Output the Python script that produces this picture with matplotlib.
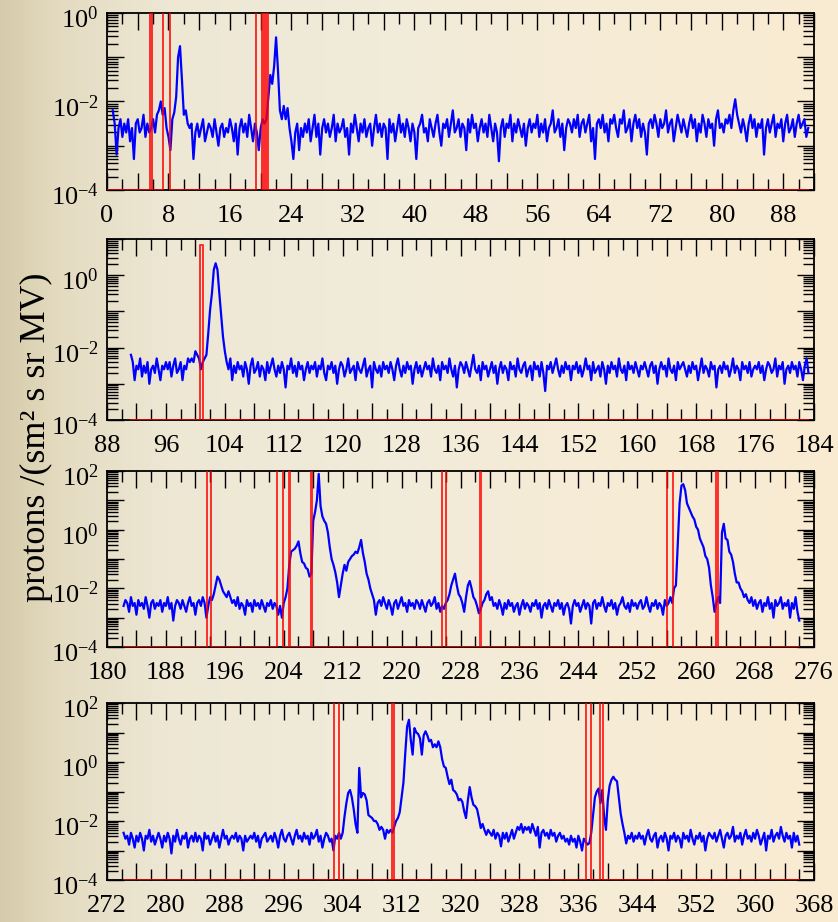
import numpy as np
import matplotlib
matplotlib.use('Agg')
import matplotlib.pyplot as plt
from matplotlib.ticker import MultipleLocator, LogLocator, FuncFormatter, NullFormatter
from matplotlib.transforms import ScaledTranslation

plt.rcParams['font.family'] = ['Liberation Serif', 'DejaVu Serif']
plt.rcParams['mathtext.fontset'] = 'custom'
plt.rcParams['mathtext.rm'] = 'Liberation Serif'
plt.rcParams['mathtext.it'] = 'Liberation Serif:italic'
plt.rcParams['mathtext.bf'] = 'Liberation Serif:bold'

# ---------------- data ----------------
y_label = "protons /(sm\u00b2 s sr MV)"
panel_xlims = [(0, 92), (88, 184), (180, 276), (272, 368)]
panel_ylims = [(1e-4, 1e0), (1e-4, 1e1), (1e-4, 1e2), (1e-4, 1e2)]
sample_step = 0.25  # days between samples

# log10 of flux, rows keyed by the day of their first sample
flux_p1 = {
    0.75: [-2.2, -2.5, -3.2, -2.6, -2.4, -2.8, -2.5, -2.7, -2.4, -2.9, -2.6, -3.3, -2.5, -2.4, -2.7, -2.6, -2.3, -2.8, -2.5, -2.7],
    5.75: [-2.6, -2.4, -2.7, -2.3, -2.2, -2.0, -2.3, -2.15, -2.6, -2.8, -3.1, -2.4, -2.25, -1.9, -1.0, -0.75, -1.5, -2.3, -2.2, -2.5],
    10.75: [-2.6, -2.5, -3.3, -2.7, -2.5, -2.8, -2.6, -2.4, -2.9, -2.7, -2.5, -2.6, -2.8, -2.4, -2.7, -3.0, -2.6, -2.5, -2.8, -2.6],
    15.75: [-2.7, -2.4, -2.6, -2.9, -2.5, -3.2, -2.6, -2.4, -2.7, -2.5, -2.8, -2.3, -2.6, -2.9, -2.5, -2.7, -3.1, -2.6, -2.4, -2.5],
    20.75: [-2.4, -1.9, -1.4, -1.6, -1.2, -0.55, -1.3, -2.2, -2.4, -2.1, -2.4, -2.15, -2.6, -2.9, -3.3, -2.7, -2.5, -3.1, -2.6, -2.8],
    25.75: [-2.5, -2.7, -2.4, -2.9, -2.6, -2.3, -2.8, -2.5, -3.2, -2.6, -2.4, -2.7, -2.5, -2.8, -2.6, -2.3, -2.9, -2.5, -2.7, -2.6],
    30.75: [-2.4, -2.8, -2.6, -3.2, -2.5, -2.7, -2.3, -2.6, -2.9, -2.5, -2.7, -2.4, -2.8, -2.6, -2.5, -3.0, -2.6, -2.3, -2.7, -2.5],
    35.75: [-2.8, -2.5, -2.6, -3.3, -2.4, -2.7, -2.5, -2.9, -2.6, -2.3, -2.7, -2.5, -2.8, -2.4, -2.6, -2.9, -2.5, -2.7, -3.3, -2.6],
    40.75: [-2.5, -2.3, -2.7, -2.6, -2.9, -2.4, -2.6, -2.8, -2.5, -2.3, -2.7, -3.0, -2.5, -2.6, -2.4, -2.8, -2.5, -2.2, -2.7, -2.6],
    45.75: [-2.4, -2.8, -2.5, -2.6, -3.1, -2.4, -2.7, -2.3, -2.6, -2.5, -2.9, -2.6, -2.4, -2.7, -2.5, -2.8, -2.3, -2.6, -2.9, -2.5],
    50.75: [-2.7, -3.35, -2.6, -2.4, -2.8, -2.5, -2.6, -2.3, -2.9, -2.5, -2.7, -2.4, -2.6, -2.8, -2.5, -3.0, -2.6, -2.4, -2.7, -2.5],
    55.75: [-2.6, -2.3, -2.8, -2.5, -2.7, -2.4, -2.9, -2.6, -2.5, -2.2, -2.7, -2.6, -2.4, -2.8, -2.5, -3.1, -2.6, -2.4, -2.5, -2.7],
    60.75: [-2.4, -2.6, -2.3, -2.8, -2.5, -2.4, -2.7, -2.5, -2.3, -2.9, -2.6, -3.3, -2.5, -2.4, -2.6, -2.3, -2.7, -2.5, -2.9, -2.4],
    65.75: [-2.5, -2.3, -2.6, -2.8, -2.4, -2.5, -2.2, -2.7, -2.6, -2.4, -2.9, -2.5, -2.3, -2.6, -2.4, -2.8, -2.5, -2.7, -3.2, -2.5],
    70.75: [-2.4, -2.6, -2.3, -2.5, -2.8, -2.4, -2.6, -2.5, -2.2, -2.7, -2.5, -2.4, -2.9, -2.6, -2.3, -2.5, -2.7, -2.4, -2.6, -2.8],
    75.75: [-2.5, -2.3, -2.6, -2.4, -2.9, -2.5, -2.7, -2.3, -2.5, -2.8, -2.4, -2.6, -2.5, -3.0, -2.4, -2.2, -2.6, -2.5, -2.7, -2.4],
    80.75: [-2.5, -2.3, -2.6, -2.2, -1.95, -2.3, -2.5, -2.7, -2.4, -2.6, -2.9, -2.5, -2.3, -2.6, -2.4, -2.8, -2.5, -2.6, -2.4, -3.2],
    85.75: [-2.6, -2.4, -2.7, -2.5, -2.3, -2.8, -2.5, -2.6, -2.4, -2.9, -2.5, -2.3, -2.7, -2.6, -2.4, -2.8, -2.5, -2.3, -2.6, -2.5],
    90.75: [-2.4, -2.8, -2.6],
}

flux_p2 = {
    91.25: [-2.2, -2.4, -2.9, -2.5, -2.6, -2.3, -2.8, -2.5, -2.7, -2.4, -3.0, -2.6, -2.5, -2.7, -2.3, -2.6, -2.9, -2.5, -2.6, -2.4],
    96.25: [-2.6, -2.4, -2.8, -2.5, -2.3, -2.7, -2.6, -2.4, -2.9, -2.5, -2.6, -2.3, -2.4, -2.3, -2.4, -2.1, -2.2, -2.3, -2.6, -2.4],
    101.25: [-2.3, -2.2, -1.6, -0.95, -0.5, 0.15, 0.33, 0.15, -0.5, -1.1, -1.7, -2.1, -2.4, -2.6, -2.3, -2.9, -2.5, -2.7, -2.4, -2.6],
    106.25: [-2.5, -2.8, -2.4, -2.6, -3.0, -2.5, -2.3, -2.7, -2.6, -2.4, -2.8, -2.5, -2.6, -2.9, -2.4, -2.7, -2.5, -2.3, -2.6, -2.8],
    111.25: [-2.5, -2.7, -2.4, -2.6, -3.1, -2.5, -2.6, -2.3, -2.7, -2.5, -2.8, -2.4, -2.6, -2.5, -2.9, -2.6, -2.4, -2.7, -2.5, -2.6],
    116.25: [-2.4, -2.8, -2.5, -2.6, -2.3, -2.7, -2.9, -2.5, -2.6, -2.4, -2.7, -2.5, -3.0, -2.6, -2.4, -2.5, -2.8, -2.6, -2.3, -2.7],
    121.25: [-2.6, -2.5, -2.9, -2.4, -2.6, -2.7, -2.5, -2.3, -2.8, -2.6, -2.5, -3.1, -2.4, -2.6, -2.7, -2.5, -2.8, -2.4, -2.6, -2.5],
    126.25: [-2.7, -2.4, -2.6, -2.9, -2.5, -2.3, -2.6, -2.8, -2.5, -2.7, -2.4, -2.6, -2.5, -3.0, -2.6, -2.4, -2.7, -2.5, -2.8, -2.6],
    131.25: [-2.4, -2.6, -2.5, -2.8, -2.3, -2.6, -2.7, -2.5, -2.9, -2.4, -2.6, -2.5, -2.7, -2.3, -2.6, -2.8, -2.5, -3.1, -2.6, -2.4],
    136.25: [-2.5, -2.7, -2.4, -2.6, -2.8, -2.5, -2.2, -2.6, -2.7, -2.5, -2.9, -2.4, -2.6, -2.5, -2.8, -2.6, -2.4, -2.7, -2.5, -3.0],
    141.25: [-2.6, -2.4, -2.7, -2.5, -2.6, -2.9, -2.4, -2.6, -2.5, -2.8, -2.3, -2.6, -2.7, -2.5, -2.4, -2.8, -2.6, -2.5, -2.9, -2.4],
    146.25: [-2.6, -2.5, -2.8, -2.4, -2.7, -3.2, -2.5, -2.6, -2.4, -2.7, -2.5, -2.3, -2.6, -2.8, -2.5, -2.7, -2.4, -2.6, -2.5, -2.9],
    151.25: [-2.5, -2.6, -2.4, -2.7, -2.5, -2.8, -2.6, -2.3, -2.6, -2.5, -2.9, -2.4, -2.7, -2.6, -2.5, -2.8, -2.4, -2.6, -3.0, -2.5],
    156.25: [-2.7, -2.4, -2.6, -2.5, -2.8, -2.3, -2.6, -2.7, -2.5, -2.9, -2.4, -2.6, -2.5, -2.7, -2.4, -2.6, -2.8, -2.5, -2.6, -2.4],
    161.25: [-2.6, -2.8, -2.5, -2.4, -2.7, -2.5, -3.0, -2.6, -2.4, -2.6, -2.5, -2.8, -2.3, -2.6, -2.7, -2.5, -2.9, -2.4, -2.6, -2.5],
    166.25: [-2.4, -2.6, -2.8, -2.5, -2.7, -2.4, -2.6, -2.5, -2.9, -2.6, -2.3, -2.7, -2.5, -2.6, -2.8, -2.4, -2.6, -2.5, -3.1, -2.6],
    171.25: [-2.5, -2.7, -2.4, -2.6, -2.5, -2.8, -2.6, -2.3, -2.7, -2.5, -2.6, -2.9, -2.4, -2.6, -2.5, -2.7, -2.4, -2.8, -2.6, -2.5],
    176.25: [-2.6, -2.4, -2.7, -2.5, -2.9, -2.6, -2.4, -2.5, -2.7, -2.6, -2.3, -2.8, -2.5, -2.6, -2.4, -3.0, -2.6, -2.5, -2.7, -2.4],
    181.25: [-2.6, -2.5, -2.8, -2.4, -2.6, -2.9, -2.5, -2.3, -2.7],
}

flux_p3 = {
    182.25: [-2.6, -2.4, -2.5, -2.8, -2.3, -2.6, -2.5, -2.9, -2.4, -2.6, -2.5, -2.7, -2.3, -2.6, -3.0, -2.5, -2.4, -2.7, -2.5, -2.6],
    187.25: [-2.4, -2.8, -2.5, -2.6, -2.3, -2.7, -2.5, -3.1, -2.6, -2.4, -2.5, -2.7, -2.4, -2.6, -2.8, -2.5, -2.3, -2.6, -2.5, -2.9],
    192.25: [-2.5, -2.4, -2.6, -2.3, -2.5, -3.0, -2.6, -2.3, -2.4, -2.2, -1.9, -1.6, -1.7, -1.9, -2.1, -2.2, -2.3, -2.1, -2.3, -2.5],
    197.25: [-2.4, -2.6, -2.3, -2.7, -2.5, -2.6, -2.9, -2.4, -2.6, -2.5, -2.8, -2.4, -2.6, -2.5, -2.7, -2.4, -2.6, -2.8, -2.5, -2.6],
    202.25: [-2.4, -2.7, -2.5, -2.6, -2.9, -2.6, -3.0, -2.5, -2.3, -2.0, -1.2, -0.75, -0.7, -0.65, -0.55, -0.4, -0.8, -1.1, -1.15, -1.3],
    207.25: [-1.35, -1.6, -1.5, 0.3, 0.6, 1.0, 1.9, 0.8, 0.45, 0.3, 0.2, -0.1, -0.6, -1.0, -1.2, -1.45, -1.8, -2.3, -1.9, -1.5],
    212.25: [-1.2, -1.4, -1.1, -1.0, -0.9, -0.85, -0.75, -0.8, -0.6, -0.35, -0.8, -1.1, -1.5, -1.7, -2.0, -2.2, -2.4, -2.9, -2.5, -2.4],
    217.25: [-2.6, -2.3, -2.5, -2.7, -2.4, -2.6, -2.9, -2.5, -2.4, -2.7, -2.5, -2.3, -2.6, -2.5, -2.8, -2.4, -2.6, -2.5, -2.7, -2.4],
    222.25: [-2.5, -2.7, -2.4, -2.6, -2.8, -2.5, -2.4, -2.6, -2.5, -2.3, -2.7, -2.5, -2.8, -2.6, -2.7, -2.5, -2.4, -2.2, -1.9, -1.7],
    227.25: [-1.5, -1.9, -2.2, -2.3, -2.5, -2.8, -2.3, -1.9, -1.75, -2.0, -2.3, -2.4, -2.6, -2.85, -2.7, -2.5, -2.4, -2.2, -2.1, -2.4],
    232.25: [-2.3, -2.6, -2.5, -2.7, -2.4, -2.6, -2.9, -2.5, -2.7, -2.4, -2.6, -2.5, -2.8, -2.6, -2.5, -2.9, -2.6, -2.4, -2.7, -2.5],
    237.25: [-2.6, -2.8, -2.5, -2.6, -2.4, -2.7, -2.5, -3.0, -2.6, -2.5, -2.7, -2.4, -2.6, -2.8, -2.5, -2.6, -2.4, -2.7, -2.5, -2.9],
    242.25: [-2.6, -2.5, -2.7, -3.2, -2.6, -2.4, -2.6, -2.5, -2.8, -2.6, -2.4, -2.7, -2.5, -2.6, -3.2, -2.5, -2.4, -2.7, -2.5, -2.6],
    247.25: [-2.3, -2.6, -2.8, -2.5, -2.6, -2.4, -2.7, -2.5, -2.9, -2.6, -2.5, -2.3, -2.6, -2.7, -2.5, -2.8, -2.4, -2.6, -2.5, -2.7],
    252.25: [-2.5, -2.4, -2.7, -2.6, -2.3, -2.6, -2.8, -2.5, -2.6, -2.4, -2.7, -2.5, -2.6, -2.9, -2.4, -2.6, -2.5, -2.3, -2.5, -2.0],
    257.25: [-1.9, -0.5, 0.9, 1.5, 1.55, 1.35, 0.9, 0.75, 0.6, 0.45, 0.35, 0.1, 0.0, -0.3, -0.45, -0.6, -0.9, -1.0, -1.3, -1.9],
    262.25: [-2.3, -2.8, -2.5, -2.3, -2.5, -0.1, 0.2, -0.3, -0.35, -0.75, -0.85, -1.1, -1.5, -1.8, -1.8, -2.0, -2.1, -2.3, -2.2, -2.4],
    267.25: [-2.5, -2.3, -2.6, -2.4, -2.7, -2.5, -2.4, -2.8, -2.5, -2.6, -2.3, -2.7, -2.5, -3.0, -2.4, -2.6, -2.5, -2.3, -2.7, -2.5],
    272.25: [-2.6, -2.4, -3.0, -2.5, -2.7, -2.3, -2.8, -3.1],
}

flux_p4 = {
    274.25: [-2.4, -2.6, -2.5, -2.8, -2.4, -2.6, -2.9, -2.5, -2.7, -2.4, -2.6, -3.0, -2.5, -2.6, -2.3, -2.7, -2.5, -2.8, -2.6, -2.4],
    279.25: [-2.6, -2.9, -2.5, -2.7, -2.4, -2.6, -3.1, -2.5, -2.7, -2.3, -2.6, -2.8, -2.5, -2.6, -2.4, -2.9, -2.6, -2.5, -2.7, -2.4],
    284.25: [-2.7, -2.5, -2.6, -3.0, -2.4, -2.6, -2.5, -2.8, -2.6, -2.4, -2.7, -2.5, -2.9, -2.6, -2.3, -2.6, -2.5, -2.8, -2.6, -2.5],
    289.25: [-2.6, -2.4, -2.7, -2.5, -2.6, -3.0, -2.5, -2.7, -2.6, -2.5, -2.6, -2.4, -2.7, -2.5, -2.9, -2.6, -2.5, -2.4, -2.7, -2.6],
    294.25: [-2.5, -2.7, -2.4, -2.6, -2.9, -2.5, -2.3, -2.6, -2.7, -2.5, -2.4, -2.6, -2.8, -2.5, -2.3, -2.6, -2.5, -2.7, -2.4, -2.6],
    299.25: [-2.5, -2.8, -2.4, -2.6, -2.5, -2.3, -2.7, -2.5, -2.9, -2.6, -2.4, -2.5, -2.7, -2.6, -3.0, -2.5, -2.6, -2.4, -2.6, -2.4],
    304.25: [-1.85, -1.4, -1.05, -0.95, -1.2, -1.6, -2.1, -2.4, -0.2, -1.2, -1.05, -1.1, -1.3, -1.8, -1.85, -1.9, -2.0, -2.0, -2.1, -2.3],
    309.25: [-2.2, -2.3, -2.6, -2.3, -2.4, -2.3, -2.4, -2.2, -2.0, -1.9, -1.7, -1.2, -0.7, 0.3, 1.2, 1.43, 0.75, 0.25, 1.15, 1.0],
    314.25: [0.95, 0.8, 0.25, 0.9, 1.04, 0.9, 0.7, 0.75, 0.5, 0.6, 0.5, 0.7, 0.5, 0.1, -0.15, -0.2, -0.5, -0.75, -0.6, -0.95],
    319.25: [-1.0, -1.1, -1.3, -1.25, -1.35, -1.67, -1.9, -1.3, -0.85, -1.2, -1.45, -1.5, -1.6, -1.9, -2.24, -2.1, -2.3, -2.47, -2.3, -2.4],
    324.25: [-2.5, -2.3, -2.6, -2.4, -2.5, -2.86, -2.4, -2.6, -2.4, -2.7, -2.5, -2.3, -2.6, -2.4, -2.2, -2.3, -2.1, -2.4, -2.2, -2.3],
    329.25: [-2.2, -2.4, -2.1, -2.3, -2.5, -2.2, -2.9, -2.4, -2.3, -2.5, -2.4, -2.6, -2.3, -2.5, -2.4, -2.7, -2.5, -2.4, -2.6, -2.5],
    334.25: [-2.7, -2.6, -2.8, -2.5, -2.7, -2.6, -2.9, -2.5, -2.7, -3.0, -2.6, -2.7, -2.8, -2.75, -2.4, -1.8, -1.2, -1.0, -0.9, -1.4],
    339.25: [-0.95, -1.85, -2.3, -1.3, -0.8, -0.6, -0.5, -0.6, -0.65, -1.2, -1.75, -2.1, -2.4, -2.76, -2.5, -2.6, -2.4, -2.7, -2.5, -2.6],
    344.25: [-2.4, -2.6, -2.5, -2.8, -2.5, -2.3, -2.6, -2.7, -2.5, -2.4, -2.9, -2.6, -2.5, -2.7, -2.4, -2.6, -3.0, -2.5, -2.6, -2.4],
    349.25: [-2.7, -2.5, -2.6, -2.9, -2.4, -2.6, -2.5, -2.7, -2.3, -2.6, -2.8, -2.5, -2.6, -2.4, -2.7, -2.5, -3.0, -2.6, -2.4, -2.5],
    354.25: [-2.6, -2.4, -2.7, -2.5, -2.3, -2.6, -2.9, -2.5, -2.4, -2.6, -2.5, -2.2, -2.7, -2.5, -2.6, -2.4, -2.8, -2.5, -2.3, -2.6],
    359.25: [-2.5, -2.7, -2.4, -2.6, -2.3, -2.5, -2.8, -2.6, -2.4, -3.0, -2.5, -2.6, -2.3, -2.7, -2.5, -2.4, -2.6, -2.2, -2.5, -2.7],
    364.25: [-2.4, -2.6, -2.5, -2.9, -2.4, -2.7, -2.5, -2.8],
}

# red event flags: (start day, end day)
events_p1 = [(5.6, 5.8), (7.3, 8.25), (19.45, 20.2), (20.3, 20.4), (20.45, 20.55), (20.6, 20.7), (20.75, 20.9)]
events_p2 = [(100.6, 101.05)]
events_p3 = [(193.6, 194.1), (203.1, 203.85), (204.7, 204.9), (207.65, 207.9),
             (225.5, 226.0), (230.6, 230.8), (256.1, 256.8), (262.7, 262.9)]
events_p4 = [(302.8, 303.5), (310.7, 310.95), (337.0, 337.7), (338.9, 339.4)]
flag_span = [(0.0, 91.25), (91.25, 183.25), (182.25, 274.0), (274.25, 366.0)]
flag_level = [7.0, 7.0, 1000.0, 1000.0]
flag_floor = 1e-4

flux_all = [flux_p1, flux_p2, flux_p3, flux_p4]
events_all = [events_p1, events_p2, events_p3, events_p4]

# ---------------- figure ----------------
W, H = 838, 922
fig = plt.figure(figsize=(W / 100, H / 100), dpi=100)

# background gradient
stops_x = [0.0, 0.07, 0.2, 0.45, 0.7, 1.0]
stops_c = np.array([(214, 203, 170), (228, 219, 193), (237, 231, 212),
                    (241, 235, 218), (246, 236, 214), (250, 235, 210)]) / 255.0
gx = np.linspace(0, 1, 400)
grad = np.stack([np.interp(gx, stops_x, stops_c[:, k]) for k in range(3)], axis=-1)[None, :, :]
bg = fig.add_axes([0, 0, 1, 1], zorder=-10)
bg.imshow(grad, aspect='auto', extent=[0, 1, 0, 1])
bg.axis('off')

# axes boxes in pixels: (top, bottom)
left_px, right_px = 107, 814
boxes = [(13, 190), (239, 420), (471, 647), (703, 880)]


def make_xfmt(x0):
    def xfmt(v, p):
        iv = int(round(v))
        return str(iv) if (iv - x0) % 8 == 0 else ''
    return xfmt


def yfmt(v, p):
    if v <= 0:
        return ''
    e = int(round(np.log10(v)))
    return r'$\mathregular{10^{%d}}$' % e if e % 2 == 0 else ''


for i in range(4):
    top, bot = boxes[i]
    ax = fig.add_axes([left_px / W, 1 - bot / H, (right_px - left_px) / W, (bot - top) / H])
    ax.set_facecolor('none')
    ax.set_yscale('log')

    rows = flux_all[i]
    xs, ys = [], []
    for start in sorted(rows):
        vals = rows[start]
        for k, v in enumerate(vals):
            xs.append(start + k * sample_step)
            ys.append(10.0 ** v)
    ax.plot(xs, ys, color='#0000ff', lw=1.6, zorder=2)

    # red flag trace
    s0, s1 = flag_span[i]
    lvl = flag_level[i]
    fx, fy = [s0], [flag_floor]
    for a, b in events_all[i]:
        fx += [a, a, b, b]
        fy += [flag_floor, lvl, lvl, flag_floor]
    fx.append(s1)
    fy.append(flag_floor)
    ax.plot(fx, fy, color='#ff0000', lw=1.4, alpha=0.8, zorder=3)

    ax.set_xlim(*panel_xlims[i])
    ax.set_ylim(*panel_ylims[i])

    ax.xaxis.set_major_locator(MultipleLocator(4))
    ax.xaxis.set_minor_locator(MultipleLocator(2))
    ax.xaxis.set_major_formatter(FuncFormatter(make_xfmt(panel_xlims[i][0])))
    ax.yaxis.set_major_locator(LogLocator(base=10, subs=(1.0,), numticks=20))
    ax.yaxis.set_minor_locator(LogLocator(base=10, subs=np.arange(2, 10), numticks=20))
    ax.yaxis.set_major_formatter(FuncFormatter(yfmt))
    ax.yaxis.set_minor_formatter(NullFormatter())

    ax.tick_params(which='both', direction='in', top=True, right=True, color='black', width=1.0)
    ax.tick_params(which='major', length=12)
    ax.tick_params(which='minor', length=8)
    ax.tick_params(axis='x', which='major', labelsize=19, pad=11)
    ax.tick_params(axis='y', which='major', labelsize=19, pad=6)
    for sp in ax.spines.values():
        sp.set_linewidth(1.3)
        sp.set_color('black')

    off = ScaledTranslation(0, -3 / 72, fig.dpi_scale_trans)
    for t in ax.yaxis.get_major_ticks():
        t.label1.set_transform(t.label1.get_transform() + off)

fig.text(36 / W, 1 - 437 / H, y_label, rotation=90, ha='center', va='center', fontsize=26)

fig.savefig('out.png', dpi=100)
